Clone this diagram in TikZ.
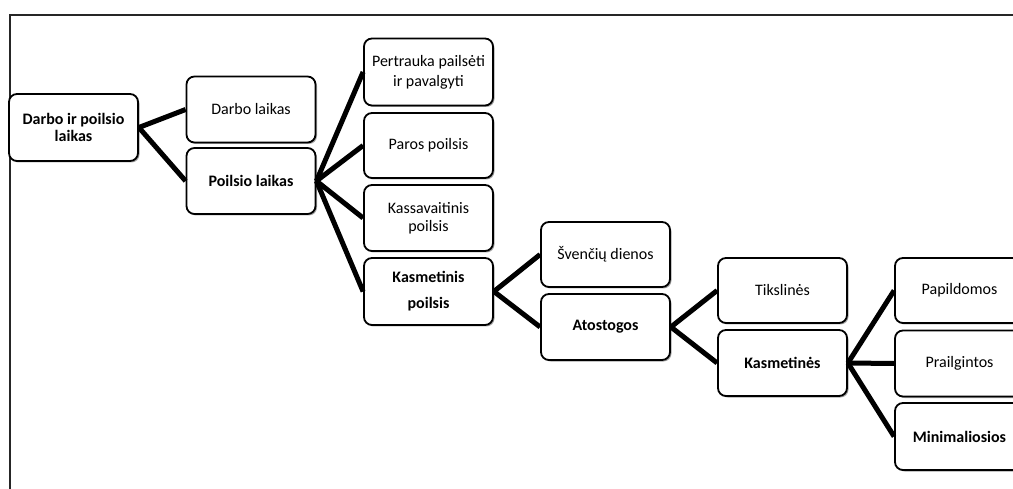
\documentclass[tikz,border=0pt]{standalone}
\usepackage{fontspec}
\setmainfont{Carlito}
\usetikzlibrary{shadows}
\begin{document}
\begin{tikzpicture}[x=1pt,y=-1pt,
  box/.style={draw=black, line width=1.8pt, rounded corners=8pt, fill=white,
    align=center, font=\fontsize{16}{19}\selectfont, inner sep=2pt,
    minimum width=129pt, minimum height=66pt,
    drop shadow={shadow xshift=1.5pt, shadow yshift=-1.5pt, opacity=0.35, fill=black}},
  link/.style={line width=5pt, black},
  frame/.style={line width=1.5pt, draw=black!85}]
\useasboundingbox (0,0) rectangle (1013,489);
\clip (0,0) rectangle (1013,489);
\fill[white] (0,0) rectangle (1013,489);
\draw[frame] (1013,15) -- (10,15) -- (10,489);

\node[box, minimum height=67pt, font=\fontsize{16}{16.5}\selectfont] (root) at (73.5,127.5) {\bfseries Darbo ir poilsio\\\bfseries laikas};
\node[box] (dl) at (251,109.5) {Darbo laikas};
\node[box] (pl) at (251,181) {\bfseries Poilsio laikas};

\node[box, minimum height=67pt, font=\fontsize{16}{20}\selectfont] (pert) at (428.5,72) {Pertrauka pailsėti\\ir pavalgyti};
\node[box, minimum height=65pt] (paros) at (428.5,145.5) {Paros poilsis};
\node[box, font=\fontsize{16}{18}\selectfont] (kass) at (428.5,218) {Kassavaitinis\\poilsis};
\node[box, minimum height=67pt, font=\fontsize{16}{26}\selectfont] (kasm) at (428.5,291.5) {\bfseries Kasmetinis\\\bfseries poilsis};

\node[box, minimum height=65pt] (sven) at (605.5,254.5) {Švenčių dienos};
\node[box] (atos) at (605.5,327) {\bfseries Atostogos};

\node[box, minimum height=65pt] (tiks) at (782.5,290.5) {Tikslinės};
\node[box] (kmt) at (782.5,363) {\bfseries Kasmetinės};

\node[box, minimum height=65pt] (papil) at (959.5,290.5) {Papildomos};
\node[box] (prail) at (959.5,363.5) {Prailgintos};
\node[box, minimum height=67pt] (mini) at (959.5,436.5) {\bfseries Minimaliosios};

\draw[link] (root.east) -- (dl.west);
\draw[link] (root.east) -- (pl.west);
\draw[link] (pl.east) -- (pert.west);
\draw[link] (pl.east) -- (paros.west);
\draw[link] (pl.east) -- (kass.west);
\draw[link] (pl.east) -- (kasm.west);
\draw[link] (kasm.east) -- (sven.west);
\draw[link] (kasm.east) -- (atos.west);
\draw[link] (atos.east) -- (tiks.west);
\draw[link] (atos.east) -- (kmt.west);
\draw[link] (kmt.east) -- (papil.west);
\draw[link] (kmt.east) -- (prail.west);
\draw[link] (kmt.east) -- (mini.west);
\end{tikzpicture}
\end{document}
